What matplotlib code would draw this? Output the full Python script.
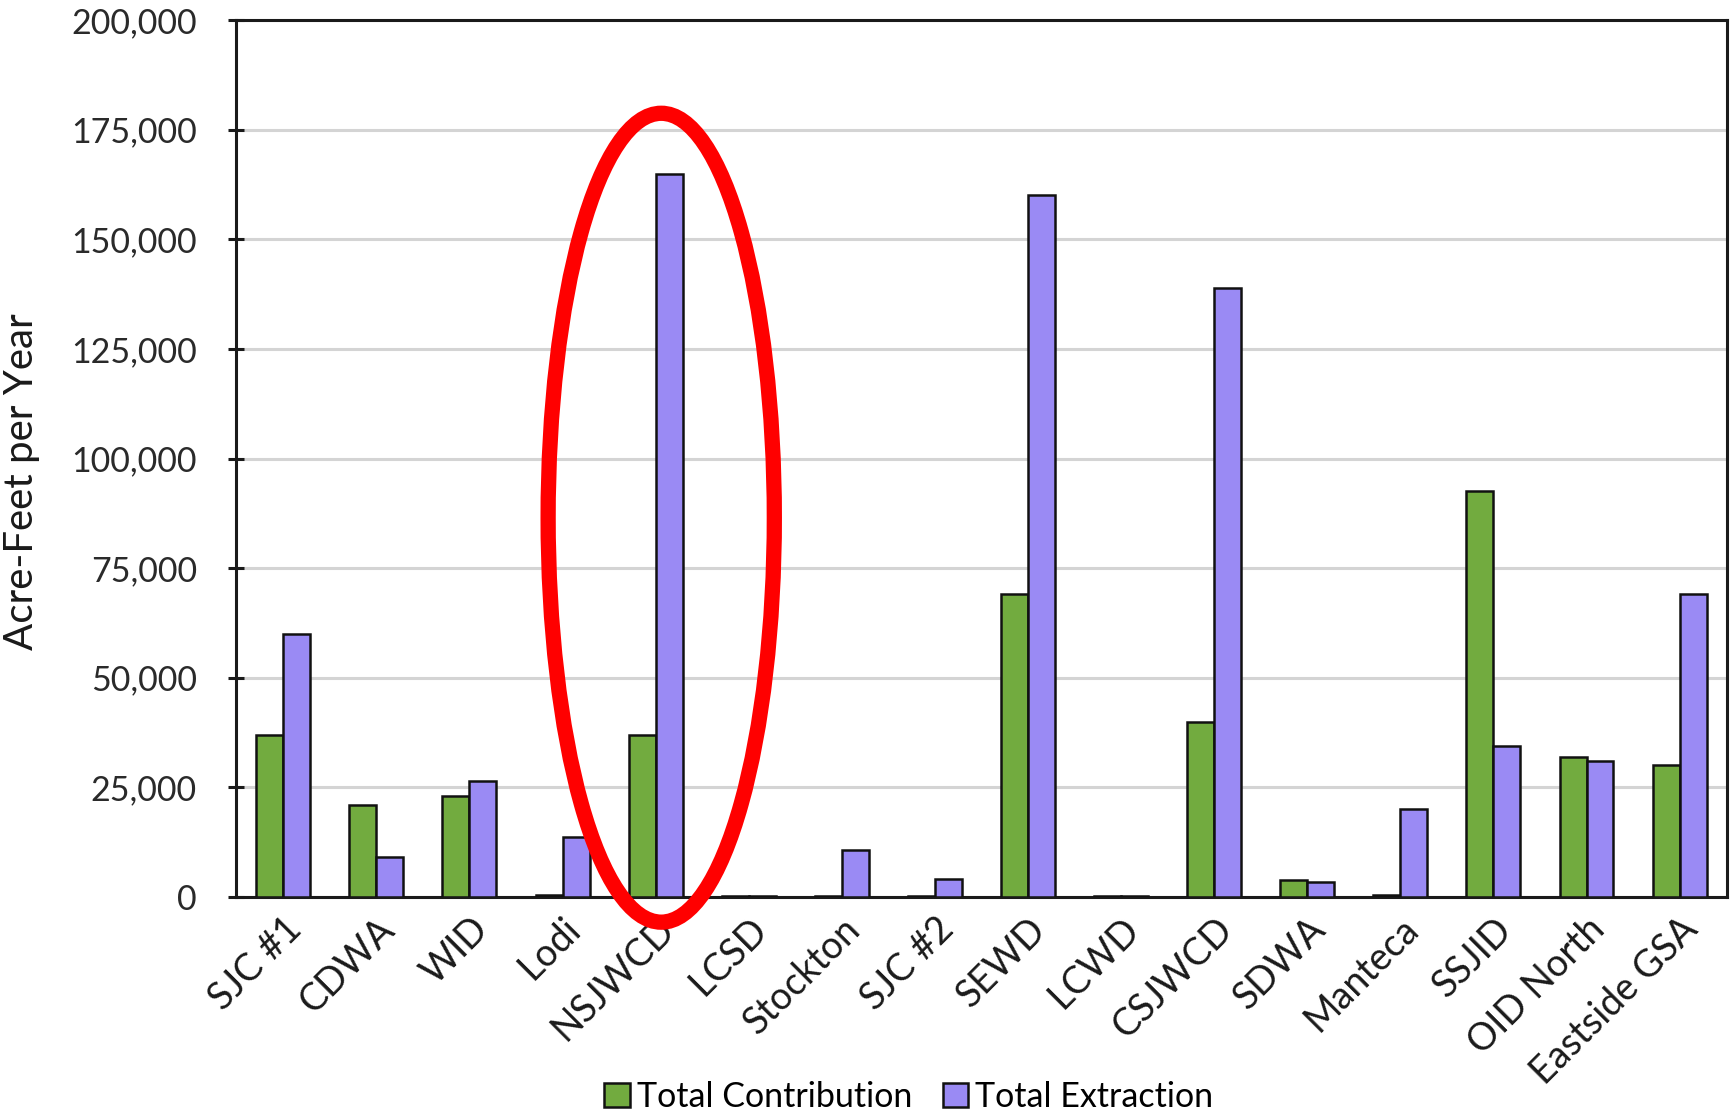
import numpy as np
import matplotlib
matplotlib.use('Agg')
import matplotlib.pyplot as plt
from matplotlib.patches import Ellipse
from matplotlib.ticker import FuncFormatter

plt.rcParams['font.family'] = ['Lato', 'DejaVu Sans']

# data (acre-feet per year)
districts = ['SJC #1', 'CDWA', 'WID', 'Lodi', 'NSJWCD', 'LCSD', 'Stockton', 'SJC #2',
             'SEWD', 'LCWD', 'CSJWCD', 'SDWA', 'Manteca', 'SSJID', 'OID North', 'Eastside GSA']
contribution = [37000, 21000, 23000, 500, 37000, 300, 300, 300,
                69000, 300, 40000, 3800, 400, 92500, 32000, 30000]
extraction = [60000, 9000, 26500, 13600, 165000, 300, 10600, 4000,
              160000, 300, 139000, 3300, 20000, 34500, 31000, 69000]

fig = plt.figure(figsize=(17.34, 11.17), dpi=100)
ax = fig.add_axes([0.136, 0.197, 0.860, 0.785])

x = np.arange(len(districts))
w = 0.29
ax.bar(x - w/2, contribution, w, color='#72ab3f', edgecolor='#111111', lw=1.8,
       label='Total Contribution', zorder=3)
ax.bar(x + w/2, extraction, w, color='#9a8af4', edgecolor='#111111', lw=1.8,
       label='Total Extraction', zorder=3)

ax.set_xlim(-0.51, len(districts) - 0.49)
ax.set_ylim(0, 200000)
ax.set_yticks(np.arange(0, 200001, 25000))
ax.yaxis.set_major_formatter(FuncFormatter(lambda v, p: f'{int(v):,}'))
ax.grid(axis='y', color='#d4d4d4', lw=2.2, zorder=0)
for s in ax.spines.values():
    s.set_linewidth(2.2)
    s.set_color('#1a1a1a')
ax.tick_params(axis='y', direction='inout', length=12, width=2.2, labelsize=24.5,
               labelcolor='#2a2a2a', color='#1a1a1a', pad=22)
ax.tick_params(axis='x', length=0, labelsize=27, labelcolor='#1a1a1a', pad=10)
ax.set_xticks(x)
ax.set_xticklabels(districts, rotation=45, ha='right', rotation_mode='anchor')
ax.set_ylabel('Acre-Feet per Year', fontsize=29, color='#1a1a1a')
ax.yaxis.set_label_coords(-0.131, 0.474)

# red ellipse highlighting NSJWCD
ax.add_patch(Ellipse((4.06, 86500), 2.43, 184500, fill=False, ec='#ff0000', lw=11,
                     clip_on=False, zorder=5))

fig.legend(loc='center', bbox_to_anchor=(0.524, 0.018), ncol=2, frameon=False,
           fontsize=24.5, handlelength=0.75, handleheight=0.75, handletextpad=0.2,
           columnspacing=0.9)

fig.savefig('out.png', dpi=100)
